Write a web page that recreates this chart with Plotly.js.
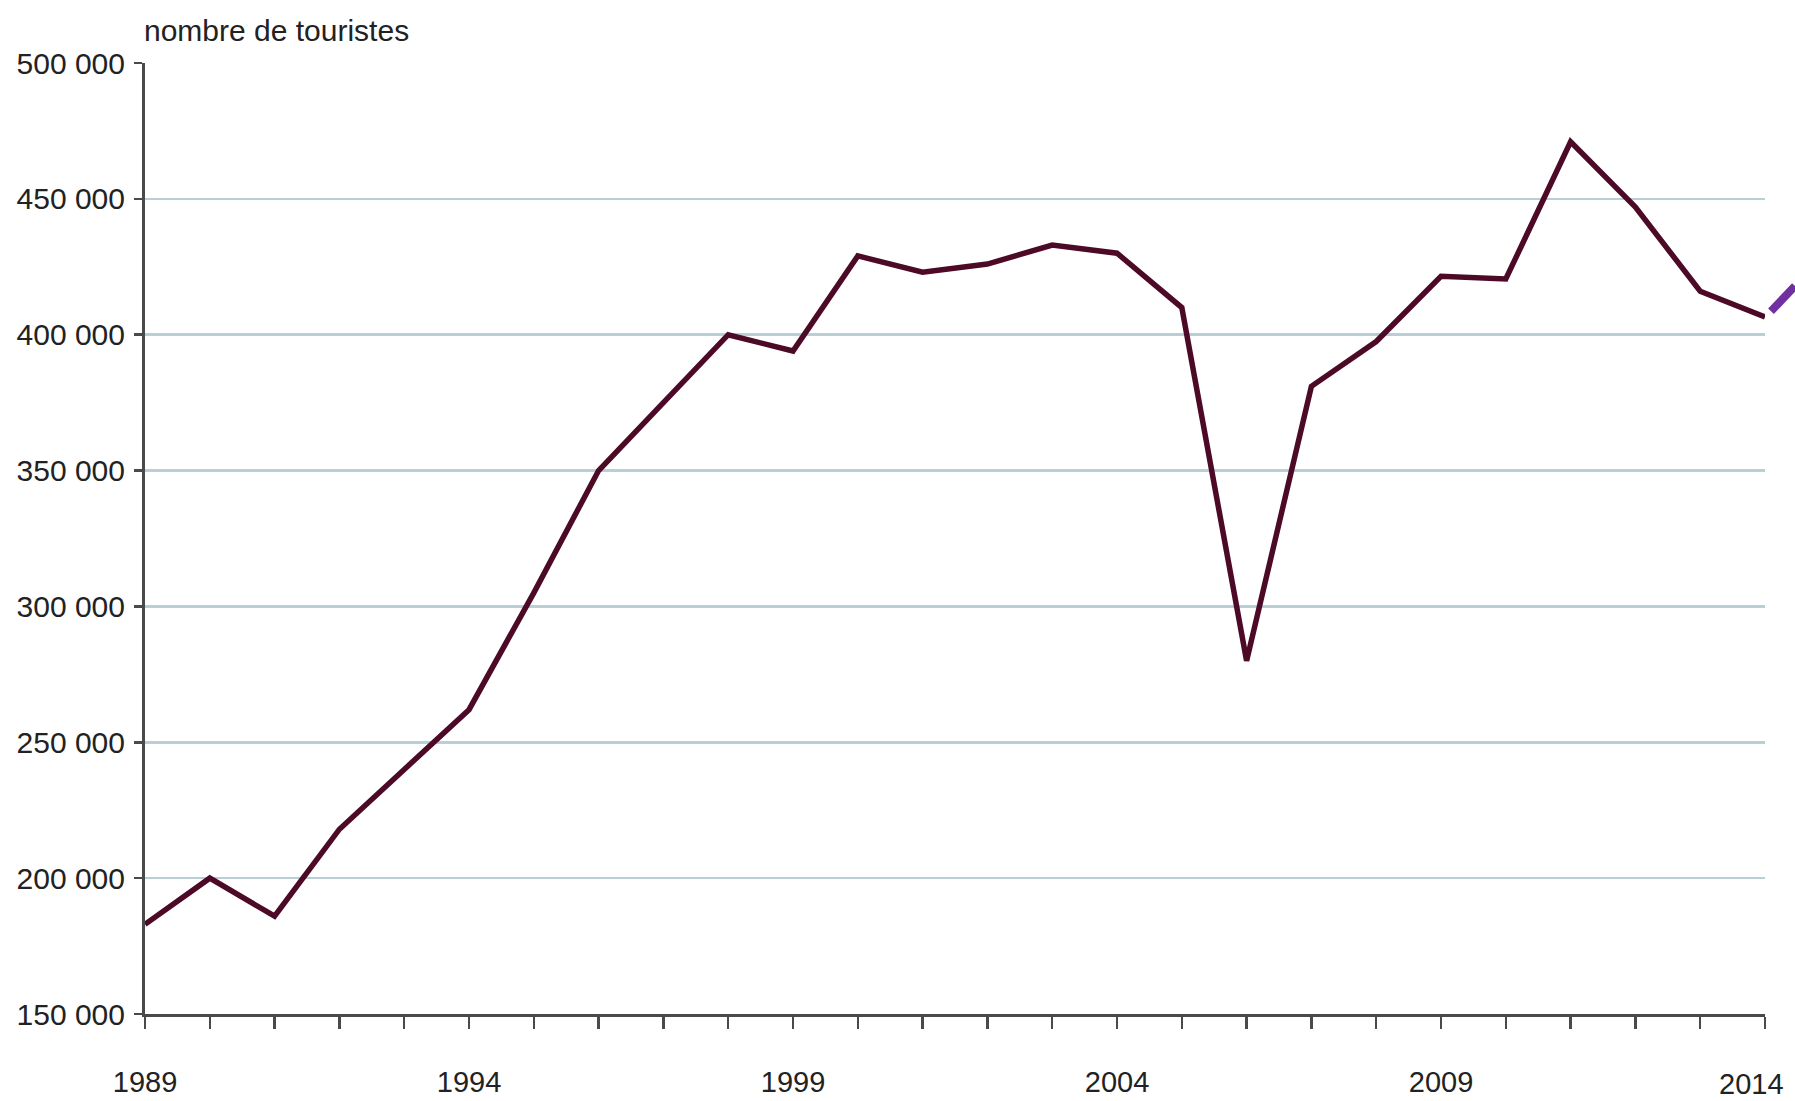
<!DOCTYPE html>
<html>
<head>
<meta charset="utf-8">
<script src="https://cdn.plot.ly/plotly-3.0.1.min.js"></script>
<style>
  html, body { margin: 0; padding: 0; background: #ffffff; }
  #chart { width: 1795px; height: 1101px; }
</style>
</head>
<body>
<div id="chart"></div>
<script>
// Data
const years = [1989, 1990, 1991, 1992, 1993, 1994, 1995, 1996, 1997, 1998, 1999,
               2000, 2001, 2002, 2003, 2004, 2005, 2006, 2007, 2008, 2009, 2010,
               2011, 2012, 2013, 2014];
const tourists = [183000, 200000, 186000, 218000, 240000, 262000, 305000, 350000, 375000, 400000, 394000,
                  429000, 423000, 426000, 433000, 430000, 410000, 280000, 381000, 397500, 421500, 420500,
                  471000, 447000, 416000, 406500];

const yTickVals = [150000, 200000, 250000, 300000, 350000, 400000, 450000, 500000];
const yTickText = ['150 000', '200 000', '250 000', '300 000', '350 000', '400 000', '450 000', '500 000'];
const xTickVals = years;
// the last label (2014) is drawn as an annotation so it stays inside the picture
const xTickText = ['1989', '', '', '', '', '1994', '', '', '', '', '1999', '', '', '', '', '2004',
                   '', '', '', '', '2009', '', '', '', '', ''];
const lastYearLabel = '2014';

const FONT = 'Liberation Sans, Arial, sans-serif';
const TEXT = '#222222';

const trace = {
  x: years,
  y: tourists,
  type: 'scatter',
  mode: 'lines',
  line: { color: '#4c0a27', width: 5.5 },
  hoverinfo: 'x+y'
};

const layout = {
  width: 1795,
  height: 1101,
  margin: { l: 145, r: 30, t: 63, b: 87 },
  paper_bgcolor: '#ffffff',
  plot_bgcolor: '#ffffff',
  showlegend: false,
  font: { family: FONT, color: TEXT, size: 29 },
  xaxis: {
    range: [1989, 2014],
    tickmode: 'array',
    tickvals: xTickVals,
    ticktext: xTickText,
    ticks: 'outside',
    ticklen: 12,
    tickwidth: 2.5,
    tickcolor: '#4a4a4a',
    showline: true,
    linecolor: '#4a4a4a',
    linewidth: 3,
    showgrid: false,
    zeroline: false,
    ticklabelstandoff: 28,
    tickfont: { family: FONT, size: 29, color: TEXT }
  },
  yaxis: {
    range: [150000, 500000],
    tickmode: 'array',
    tickvals: yTickVals,
    ticktext: yTickText,
    ticks: 'outside',
    ticklen: 8,
    tickwidth: 2.5,
    tickcolor: '#4a4a4a',
    showline: true,
    linecolor: '#4a4a4a',
    linewidth: 3,
    showgrid: true,
    gridcolor: '#b9cfd8',
    gridwidth: 2.5,
    zeroline: false,
    ticklabelstandoff: 3,
    tickfont: { family: FONT, size: 30, color: TEXT }
  },
  annotations: [{
    text: 'nombre de touristes',
    xref: 'paper', yref: 'paper',
    x: -0.002, y: 1.0,
    xanchor: 'left', yanchor: 'bottom',
    yshift: 14,
    showarrow: false,
    font: { family: FONT, size: 30, color: TEXT }
  }, {
    text: lastYearLabel,
    xref: 'x', yref: 'paper',
    x: years[years.length - 1], y: 0,
    xanchor: 'right', yanchor: 'middle',
    xshift: 20, yshift: -70,
    borderpad: 0,
    showarrow: false,
    font: { family: FONT, size: 29, color: TEXT }
  }],
  shapes: [{
    type: 'line',
    xref: 'paper', yref: 'paper',
    x0: 1.0037, y0: 0.739, x1: 1.0185, y1: 0.7655,
    line: { color: '#7030a0', width: 8 }
  }]
};

Plotly.newPlot('chart', [trace], layout, { displayModeBar: false, staticPlot: true });
</script>
</body>
</html>
